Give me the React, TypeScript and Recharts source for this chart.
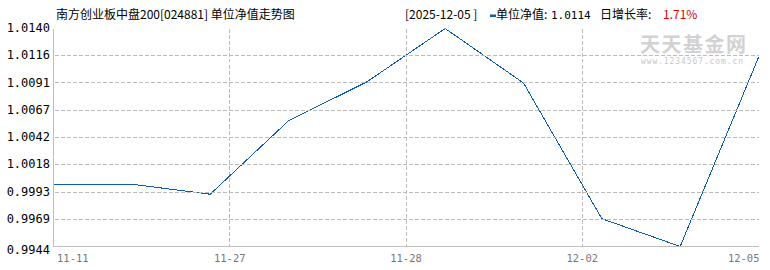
import React from "react";
import { LineChart, Line, XAxis, YAxis, CartesianGrid } from "recharts";

// Unit NAV, one value per trading day (index = trading day)
const navValues = [1.0, 1.0, 0.9991, 1.0057, 1.0092, 1.014, 1.0091, 0.9969, 0.9944, 1.0114];
const xTickPositions = [0, 2.25, 4.5, 6.75, 9];
const xTickLabels = ["11-11", "11-27", "11-28", "12-02", "12-05"];
const yTickValues = [0.9944, 0.99685, 0.9993, 1.00175, 1.0042, 1.00665, 1.0091, 1.01155, 1.014];
const yTickLabels = ["0.9944", "0.9969", "0.9993", "1.0018", "1.0042", "1.0067", "1.0091", "1.0116", "1.0140"];

const title = "南方创业板中盘200[024881] 单位净值走势图";
const headerDate = "[2025-12-05 ]";
const headerNavLabel = "单位净值:";
const headerNav = "1.0114";
const headerRateLabel = "日增长率:";
const headerRate = "1.71%";

const data = navValues.map((v, i) => ({ idx: i, nav: v }));

const CHART_W = 770;
const CHART_H = 270;
const MARGIN_RIGHT = 11.5;
const Y_AXIS_W = 53.5;
const PLOT_W = CHART_W - MARGIN_RIGHT - Y_AXIS_W;

const BORDER = "#bdbdbd";
const GRID = "#bcbcbc";
const LINE = "#0b5cad";

const XTick = (props: any) => {
  const { x, y, payload, index } = props;
  const label = xTickLabels[xTickPositions.indexOf(payload.value)] ?? "";
  let anchor: "start" | "middle" | "end" = "middle";
  let px = x;
  if (index === 0) {
    anchor = "start";
    px = x + 3.5;
  } else if (index === xTickPositions.length - 1) {
    anchor = "end";
    px = x + 1;
  }
  return (
    <text x={px} y={y + 15} textAnchor={anchor} fontFamily="DejaVu Sans Mono" fontSize={10.5} fill="#777">
      {label}
    </text>
  );
};

const YTick = (props: any) => {
  const { x, y, payload } = props;
  const i = yTickValues.indexOf(payload.value);
  const label = yTickLabels[i] ?? "";
  const dy = i === 0 ? 7 : 3.5;
  const interior = i > 0 && i < yTickValues.length - 1;
  const yy = Math.floor(y) + 0.5;
  return (
    <g>
      {interior && (
        <line
          x1={x + 1}
          x2={x + PLOT_W}
          y1={yy}
          y2={yy}
          stroke={GRID}
          strokeDasharray="4 2"
          shapeRendering="crispEdges"
        />
      )}
      <text x={x - 3.5} y={y + dy} textAnchor="end" fontFamily="DejaVu Sans Mono" fontSize={12} fill="#000">
        {label}
      </text>
    </g>
  );
};

const VLine = (props: any) => {
  const { x1, y1, y2, index } = props;
  if (index === 0 || index === xTickPositions.length - 1) return <g />;
  const xx = Math.floor(x1) + 0.5;
  return <line x1={xx} x2={xx} y1={y1} y2={y2} stroke={GRID} strokeDasharray="4 2" shapeRendering="crispEdges" />;
};

export default function App() {
  return (
    <div style={{ position: "absolute", left: 0, top: 0, width: CHART_W, height: CHART_H, background: "#fff" }}>
      <svg width={CHART_W} height={CHART_H} style={{ position: "absolute", left: 0, top: 0 }}>
        <text x={640} y={52} fontFamily="Noto Sans CJK SC" fontWeight={700} fontSize={20} letterSpacing={1.5} fill="#d2d2d2">
          天天基金网
        </text>
        <text x={641} y={64} fontFamily="DejaVu Sans Mono" fontSize={8} letterSpacing={0.9} fill="#c8c8c8">
          www.1234567.com.cn
        </text>
        <text x={56} y={19} fontFamily="Noto Sans CJK SC" fontSize={12} fill="#000">
          {title}
        </text>
        <text x={405} y={19} fontFamily="Noto Sans CJK SC" fontSize={12} fill="#000">
          {headerDate}
        </text>
        <rect x={490} y={14.5} width={6} height={2.5} fill={LINE} />
        <text x={496} y={19} fontFamily="Noto Sans CJK SC" fontSize={12} fill="#000">
          {headerNavLabel}
        </text>
        <text x={551} y={19} fontFamily="DejaVu Sans Mono" fontSize={11} fill="#000">
          {headerNav}
        </text>
        <text x={600} y={19} fontFamily="Noto Sans CJK SC" fontSize={12} fill="#000">
          {headerRateLabel}
        </text>
        <text x={663} y={19} fontFamily="Noto Sans CJK SC" fontSize={12} fill="#e00000">
          {headerRate}
        </text>
      </svg>
      <div style={{ position: "absolute", left: 0, top: 0 }}>
        <LineChart width={CHART_W} height={CHART_H} data={data} margin={{ top: 28.5, right: MARGIN_RIGHT, bottom: 0, left: 0 }}>
          <CartesianGrid xAxisId="b" yAxisId="l" horizontal={false} vertical={VLine} />
          <XAxis
            xAxisId="b"
            dataKey="idx"
            type="number"
            domain={[0, 9]}
            ticks={xTickPositions}
            tick={XTick}
            tickLine={false}
            tickSize={0}
            tickMargin={0}
            height={23.5}
            axisLine={{ stroke: BORDER, shapeRendering: "crispEdges" }}
            interval={0}
          />
          <XAxis
            xAxisId="t"
            orientation="top"
            dataKey="idx"
            type="number"
            domain={[0, 9]}
            tick={false}
            tickLine={false}
            height={0}
            axisLine={{ stroke: BORDER, shapeRendering: "crispEdges" }}
          />
          <YAxis
            yAxisId="l"
            type="number"
            domain={[0.9944, 1.014]}
            ticks={yTickValues}
            tick={YTick}
            tickLine={false}
            tickSize={0}
            tickMargin={0}
            width={Y_AXIS_W}
            interval={0}
            allowDataOverflow
            axisLine={{ stroke: BORDER, shapeRendering: "crispEdges" }}
          />
          <YAxis
            yAxisId="r"
            orientation="right"
            type="number"
            domain={[0.9944, 1.014]}
            tick={false}
            tickLine={false}
            width={0}
            axisLine={{ stroke: BORDER, shapeRendering: "crispEdges" }}
          />
          <Line
            xAxisId="b"
            yAxisId="l"
            type="linear"
            dataKey="nav"
            stroke={LINE}
            strokeWidth={1}
            shapeRendering="crispEdges"
            dot={false}
            activeDot={false}
            isAnimationActive={false}
          />
        </LineChart>
      </div>
    </div>
  );
}
